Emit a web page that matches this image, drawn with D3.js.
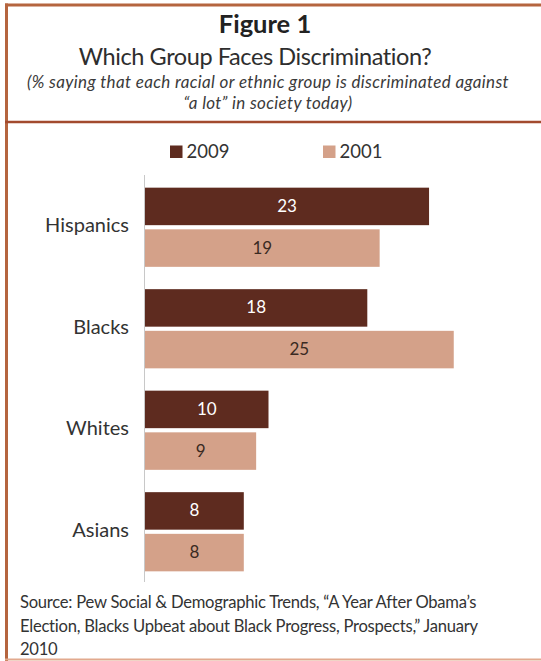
<!DOCTYPE html>
<html>
<head>
<meta charset="utf-8">
<script src="https://cdn.jsdelivr.net/npm/d3@7"></script>
<style>
  html, body { margin: 0; padding: 0; background: #fff; }
  svg { display: block; }
  text { font-family: Lato, "Open Sans", sans-serif; fill: #333; }
</style>
</head>
<body>
<svg id="chart" width="541" height="661"></svg>
<script>
// Survey groups and the share saying each faces "a lot" of discrimination
const categories = ["Hispanics", "Blacks", "Whites", "Asians"];
const seriesNames = ["2009", "2001"];
const values2009 = [23, 18, 10, 8];
const values2001 = [19, 25, 9, 8];
const seriesColors = ["#5e2b1f", "#d4a189"];
const labelColors = ["#ffffff", "#3a2a22"];

const titleText = "Figure 1";
const headingText = "Which Group Faces Discrimination?";
const subtitleLines = [
  "(% saying that each racial or ethnic group is discriminated against",
  "\u201ca lot\u201d in society today)"
];
const sourceLines = [
  "Source: Pew Social & Demographic Trends, \u201cA Year After Obama\u2019s",
  "Election, Blacks Upbeat about Black Progress, Prospects,\u201d January",
  "2010"
];

const svg = d3.select("#chart");
const W = 541, H = 661;

// frame
const frameColor = "#b5653f";
svg.append("line").attr("x1", 5).attr("x2", W).attr("y1", 5).attr("y2", 5)
  .attr("stroke", frameColor).attr("stroke-width", 3);
svg.append("line").attr("x1", 6.5).attr("x2", 6.5).attr("y1", 3.5).attr("y2", H)
  .attr("stroke", frameColor).attr("stroke-width", 3);
svg.append("line").attr("x1", 5).attr("x2", W).attr("y1", 122).attr("y2", 122)
  .attr("stroke", "#a24a2e").attr("stroke-width", 2.5);
svg.append("line").attr("x1", 5).attr("x2", W).attr("y1", 659.5).attr("y2", 659.5)
  .attr("stroke", "#e2a98e").attr("stroke-width", 2);

// titles
svg.append("text").attr("x", 265).attr("y", 32.5).attr("text-anchor", "middle")
  .style("font-weight", "bold").style("font-size", "25.5px").style("fill", "#222")
  .text(titleText);
svg.append("text").attr("x", 255).attr("y", 64.5).attr("text-anchor", "middle")
  .style("font-size", "23.5px").style("letter-spacing", "-0.4px").style("fill", "#2e2e2e")
  .text(headingText);
svg.append("g").selectAll("text").data(subtitleLines).join("text")
  .attr("x", 268).attr("y", (d, i) => 87.5 + i * 21).attr("text-anchor", "middle")
  .style("font-style", "italic").style("font-size", "17px").style("letter-spacing", "0.35px")
  .style("fill", "#3a3a3a")
  .text(d => d);

// scales
const x = d3.scaleLinear().domain([0, 25]).range([145, 145 + 25 * 12.35]);
const y0 = d3.scaleBand().domain(categories).range([176.5, 582.5])
  .paddingInner(0.22).paddingOuter(0.11);
const y1 = d3.scaleBand().domain(seriesNames).range([0, y0.bandwidth()])
  .paddingInner(0.1).paddingOuter(0);

const rows = categories.map((c, i) => ({
  category: c,
  bars: [
    { series: seriesNames[0], value: values2009[i], k: 0 },
    { series: seriesNames[1], value: values2001[i], k: 1 }
  ]
}));

// bars
const groups = svg.append("g").selectAll("g").data(rows).join("g")
  .attr("transform", d => `translate(0,${y0(d.category)})`);

groups.selectAll("rect").data(d => d.bars).join("rect")
  .attr("x", x(0))
  .attr("y", d => y1(d.series))
  .attr("width", d => x(d.value) - x(0))
  .attr("height", y1.bandwidth())
  .attr("fill", d => seriesColors[d.k]);

groups.selectAll("text.val").data(d => d.bars).join("text")
  .attr("class", "val")
  .attr("x", d => (x(0) + x(d.value)) / 2)
  .attr("y", d => y1(d.series) + y1.bandwidth() / 2 + 5.5)
  .attr("text-anchor", "middle")
  .style("font-size", "17px")
  .style("fill", d => labelColors[d.k])
  .text(d => d.value);

// category axis line and labels
svg.append("line").attr("x1", x(0) - 0.5).attr("x2", x(0) - 0.5)
  .attr("y1", 175).attr("y2", 582)
  .attr("stroke", "#c8c8c8").attr("stroke-width", 1);

svg.append("g").selectAll("text").data(categories).join("text")
  .attr("x", 129)
  .attr("y", d => y0(d) + y0.bandwidth() / 2 + 5)
  .attr("text-anchor", "end")
  .style("font-size", "20px")
  .text(d => d);

// legend
const legendX = [170, 323];
const legend = svg.append("g").selectAll("g").data(seriesNames).join("g")
  .attr("transform", (d, i) => `translate(${legendX[i]},145.5)`);
legend.append("rect").attr("width", 12.5).attr("height", 12.5)
  .attr("fill", (d, i) => seriesColors[i]);
legend.append("text").attr("x", 16.5).attr("y", 12)
  .style("font-size", "18.5px").text(d => d);

// source note
svg.append("g").selectAll("text").data(sourceLines).join("text")
  .attr("x", 20).attr("y", (d, i) => 608 + i * 23.5)
  .style("font-size", "16.6px").style("letter-spacing", "-0.25px").style("fill", "#333")
  .text(d => d);
</script>
</body>
</html>
